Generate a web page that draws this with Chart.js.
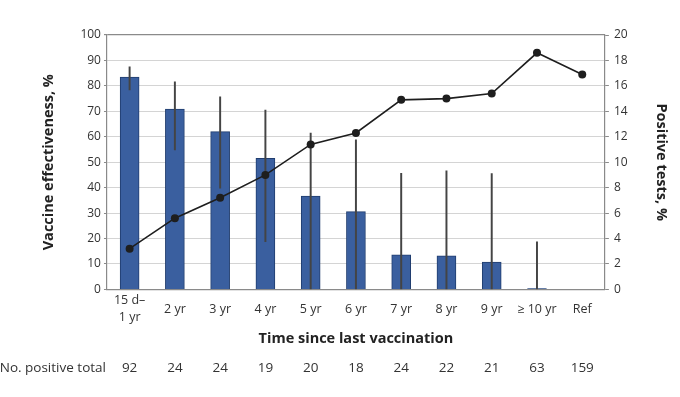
<!DOCTYPE html>
<html>
<head>
<meta charset="utf-8">
<script src="https://cdn.jsdelivr.net/npm/chart.js@4/dist/chart.umd.min.js"></script>
<style>
  html, body { margin: 0; padding: 0; background: #fff; }
  #wrap { width: 680px; height: 397px; position: relative; }
</style>
</head>
<body>
<div id="wrap"><canvas id="chart"></canvas></div>
<script>
// --- data ---
const categories = [["15 d\u2013", "1 yr"], "2 yr", "3 yr", "4 yr", "5 yr", "6 yr", "7 yr", "8 yr", "9 yr", "\u2265 10 yr", "Ref"];
const effectiveness = [83.5, 70.9, 62, 51.5, 36.7, 30.6, 13.6, 13.2, 10.7, 0.3, null];
const ciLow  = [78.4, 54.8, 39.8, 18.8, 0, 0, 0, 0, 0, 0, null];
const ciHigh = [87.5, 81.6, 75.7, 70.5, 61.4, 58.8, 45.6, 46.6, 45.5, 18.7, null];
const positiveTests = [3.2, 5.6, 7.2, 9.0, 11.4, 12.3, 14.9, 15.0, 15.4, 18.6, 16.9];
const positiveTotal = ["92", "24", "24", "19", "20", "18", "24", "22", "21", "63", "159"];
const effTicks = [0, 10, 20, 30, 40, 50, 60, 70, 80, 90, 100];
const posTicks = [0, 2, 4, 6, 8, 10, 12, 14, 16, 18, 20];

const FONT = "'Open Sans', 'Noto Sans', sans-serif";
const TXT = "#333";
const AXIS = "#8a8a8a";

// row label for the count axis, placed next to it
const rowLabel = {
  id: "rowLabel",
  afterDraw(chart) {
    const s = chart.scales.x2;
    const c = chart.ctx;
    c.save();
    c.font = "13.5px " + FONT;
    c.fillStyle = TXT;
    c.textAlign = "right";
    c.textBaseline = "middle";
    c.fillText("No. positive total", chart.chartArea.left - 1, s.top + s.options.ticks.padding + 8);
    c.restore();
  }
};

new Chart(document.getElementById("chart"), {
  data: {
    labels: categories,
    datasets: [
      {
        type: "line",
        data: positiveTests,
        yAxisID: "y2",
        borderColor: "#1e1e1e",
        backgroundColor: "#1e1e1e",
        borderWidth: 1.6,
        pointRadius: 4,
        pointBorderWidth: 0,
        tension: 0,
        order: 0
      },
      {
        type: "bar",
        data: ciLow.map((l, i) => l == null ? null : [l, ciHigh[i]]),
        yAxisID: "y",
        backgroundColor: "#444",
        barThickness: 1.3,
        grouped: false,
        order: 1
      },
      {
        type: "bar",
        data: effectiveness,
        yAxisID: "y",
        backgroundColor: "#3a5f9f",
        borderColor: "#203d6e",
        borderWidth: 1,
        barThickness: 19,
        grouped: false,
        order: 2
      }
    ]
  },
  options: {
    responsive: true,
    maintainAspectRatio: false,
    animation: false,
    layout: { padding: { top: 35, right: 0, bottom: 17, left: 0 } },
    plugins: { legend: { display: false }, tooltip: { enabled: false } },
    scales: {
      x: {
        type: "category",
        offset: true,
        grid: { display: false, drawTicks: false },
        border: { display: true, color: AXIS, width: 1.2 },
        ticks: { color: TXT, font: { family: FONT, size: 12.5, lineHeight: 1.4 }, padding: 11,
                 crossAlign: "center", maxRotation: 0, autoSkip: false },
        title: { display: true, text: "Time since last vaccination", color: "#222",
                 font: { family: FONT, size: 14.5, weight: "bold" }, padding: { top: -16, bottom: 8 } }
      },
      x2: {
        type: "category",
        position: "bottom",
        labels: positiveTotal,
        offset: true,
        grid: { display: false, drawTicks: false },
        border: { display: false },
        ticks: { color: TXT, font: { family: FONT, size: 13.5 }, padding: 4, maxRotation: 0, autoSkip: false }
      },
      y: {
        position: "left",
        min: 0, max: 100,
        afterBuildTicks: s => { s.ticks = effTicks.map(v => ({ value: v })); },
        grid: {
          color: c => c.tick && c.tick.value === 100 ? AXIS : "#d4d4d4",
          tickColor: AXIS, tickLength: 3, lineWidth: c => c.tick && c.tick.value === 100 ? 1.2 : 1
        },
        border: { display: true, color: AXIS, width: 1.2 },
        ticks: { color: TXT, font: { family: FONT, size: 12 }, padding: 3 },
        title: { display: true, text: "Vaccine effectiveness, %", color: "#222",
                 font: { family: FONT, size: 14.5, weight: "bold" }, padding: { top: 40, bottom: 20 } }
      },
      y2: {
        position: "right",
        min: 0, max: 20,
        afterBuildTicks: s => { s.ticks = posTicks.map(v => ({ value: v })); },
        grid: { drawOnChartArea: false, tickColor: AXIS, tickLength: 4 },
        border: { display: true, color: AXIS, width: 1.2 },
        ticks: { color: TXT, font: { family: FONT, size: 12 }, padding: 5 },
        title: { display: true, text: "Positive tests, %", color: "#222",
                 font: { family: FONT, size: 14.5, weight: "bold" }, padding: { top: 10, bottom: 20 } }
      }
    }
  },
  plugins: [rowLabel]
});
</script>
</body>
</html>
